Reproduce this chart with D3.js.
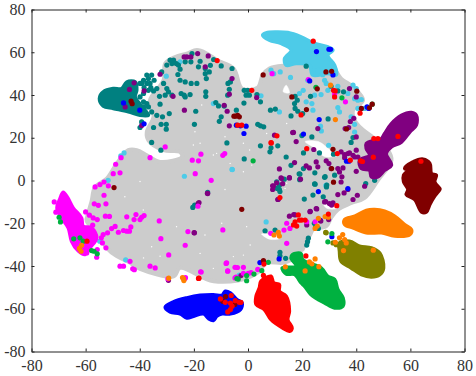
<!DOCTYPE html>
<html>
<head>
<meta charset="utf-8">
<script src="https://cdn.jsdelivr.net/npm/d3@7/dist/d3.min.js"></script>
<style>
  html, body { margin: 0; padding: 0; background: #fff; }
  text { font-family: "Liberation Serif", serif; font-size: 16px; fill: #333; }
</style>
</head>
<body>
<div id="chart"></div>
<script>
// tick labels
const tickValues = [-80, -60, -40, -20, 0, 20, 40, 60, 80];

// cluster outlines in data units
const greyOutline = [[-22.6,59.4],[-18.9,61],[-15.2,59.4],[-11.5,56.3],[-5.3,52.4],[-2.2,43],[3.6,43.5],[5.4,49.3],[7.9,52.4],[14.7,53.9],[22.1,54.7],[27,57.8],[31.4,53.2],[34.4,47.7],[38.8,43.8],[42.5,37.6],[38.8,32.9],[39.4,28.2],[41.9,24.3],[44.3,22],[51.7,14.2],[53,9.5],[48,0.1],[43.1,-8.1],[38.2,-10.5],[33.2,-13.6],[30.7,-17.5],[28.9,-21.4],[24,-23],[22.7,-26],[20.9,-26.8],[20.2,-32.3],[17.2,-33.9],[15.9,-37],[12.8,-38.5],[6.7,-38.5],[4.2,-42.4],[-0.1,-45.5],[-3.6,-46.8],[-12.7,-47.1],[-16.4,-45.6],[-25.1,-40.9],[-27.5,-44.8],[-39.9,-41.3],[-44.2,-38],[-48.5,-35.4],[-52.2,-31.5],[-55.9,-23.7],[-59.6,-19],[-59,-15.1],[-57.8,-9.7],[-56.5,-3],[-52.2,0.9],[-48.5,7.9],[-44.2,14.2],[-41.1,14.2],[-37.4,11.8],[-32.5,8.7],[-24.4,11],[-25.1,13.4],[-31.2,14.2],[-36.8,18.8],[-37.4,22.7],[-34.9,29.8],[-36.2,37.6],[-31.2,46.9],[-30.6,54.7],[-26.9,57.8]];
const tealOutline = [[-54.9,38.3],[-53.5,41.5],[-49.8,43],[-46.7,43],[-44.8,46.1],[-41.7,46.1],[-41.1,42.2],[-41.7,39.1],[-38,32.9],[-36.8,30.5],[-39.9,30.5],[-44.2,32.1],[-49.8,33.7],[-53.5,34.8]];
const cyanOutline = [[5.4,68],[6.7,69.1],[10.4,69.5],[14.7,69.2],[19.6,67.2],[24.6,64.1],[29.5,62.5],[31.4,61],[29.5,58.6],[32,54],[32.6,49.3],[29.5,50],[23.9,49.3],[22.7,54],[17.8,54.7],[14.1,53.9],[13.5,57],[16,61],[12.2,64.1],[7.9,65.6]];
const purpleOutline = [[50.5,22],[53,26.6],[56.7,30.5],[60.4,31.8],[62.2,30.5],[62.2,25.9],[59.8,22.7],[56.7,18],[53,15.7],[51.1,12.6],[53,7.1],[50.5,4.8],[48,1.7],[45.6,1.7],[44.9,4.8],[41.9,5.6],[41.2,9.5],[44.9,11.8],[43.7,14.9],[43.7,17.3],[46.8,18.8],[49.3,19.6]];
const maroonOutline = [[57.9,5.6],[61,8.7],[64.7,10],[67.2,8],[67.8,3.2],[69.6,2.5],[69,-0.6],[70.9,-3.8],[70.9,-4.2],[69,-7.3],[67.2,-11.2],[65.9,-14.7],[64.1,-14.7],[61.6,-8.9],[58.5,-6.6],[59.1,-4.2],[57.5,-0.6],[57.5,2.5],[59.1,4.8]];
const orangeOutline = [[35.7,-18.3],[39.5,-16.7],[43.7,-14],[46.8,-13.6],[50.5,-14.4],[54.2,-16.7],[57.9,-20.6],[60.4,-22.9],[59.8,-25.3],[54.2,-26],[49.3,-24.5],[43.7,-24.5],[38.8,-22.2],[35.7,-20.6]];
const oliveOutline = [[33.8,-29.2],[37.5,-28.4],[41.2,-30.7],[45.6,-31.5],[48.7,-33.9],[50.1,-40.9],[48.7,-44],[45.6,-45.1],[41.9,-44],[38.1,-40.9],[34.4,-37.8],[33.8,-33.1]];
const greenOutline = [[16.5,-34.6],[19.6,-34.2],[20.2,-37],[27,-40.9],[29.5,-44.8],[32,-46.3],[33.2,-51],[35.1,-54.9],[35.1,-58.8],[32,-59.6],[28.3,-57.3],[23.3,-53.4],[20.9,-49.5],[19.6,-47.9],[17.2,-44],[14.1,-43.7],[12.6,-40.9],[17.8,-40.1],[15.9,-36.2]];
const redOutline = [[4.8,-47.1],[8.5,-44.8],[9.5,-47.9],[11.6,-48.7],[11.6,-51.8],[14.1,-54.1],[15.3,-61.2],[14.7,-65.1],[16.3,-69],[15.3,-70.5],[12.8,-69],[8.5,-65.1],[6,-60.4],[3,-58],[3,-54.1],[4.2,-50.2]];
const blueOutline = [[-30.6,-59.3],[-27.5,-56.8],[-22.6,-54.9],[-17.7,-53.7],[-12.8,-53.4],[-9.6,-53.7],[-8.4,-51.8],[-6.5,-52.6],[-4.1,-55.7],[-2.2,-57.3],[-2.8,-60.4],[-6.5,-62.4],[-9.6,-62.4],[-11.5,-63.5],[-12.8,-65.5],[-14.6,-64.6],[-16.4,-62.4],[-20.1,-63.5],[-22.6,-64.3],[-25.1,-62.4],[-28.8,-61.5]];
const magentaOutline = [[-68.3,-5.5],[-66.6,-8.1],[-64.6,-12.8],[-61.5,-17.5],[-60.9,-21.4],[-57.8,-22.2],[-55.9,-26.8],[-58.4,-31.5],[-60.2,-34.6],[-62.7,-33],[-65.2,-28.4],[-66.4,-22.2],[-68.9,-17.5],[-70.6,-12.8],[-69.6,-8.9]];

// white gaps inside the grey mass
const gapOutlines = [
  [[21.1,18.2],[26,18.2],[30.3,14.3],[33.4,11.9],[28.5,11.1],[24.8,15]],
  [[27.8,-10.7],[30.9,-10.7],[32.8,-13],[29.1,-13]],
  [[14.1,44.6],[15.3,41],[13,41.5]],
  [[5,-25],[8,-27.5],[12,-27],[11,-26]]
];
const gapSpecks = [[-1.7,17.4],[0.6,14.3],[-8.5,20.5],[-6.6,8],[-1.7,4.1],[1.4,7.2],[6.9,22],[9.4,22],[14.3,26.7],[13.7,-3.7],[14.3,-1.3],[-8.5,-4.2],[-12.8,11.9],[-17.1,35.3],[-19.6,22.8],[-17.7,17.4],[-39.9,-0.5],[-45.5,-7.6],[-38.7,-13.8],[-20.2,16.6],[-11.6,12.7],[-15.9,-25.5],[-26.4,-21.6],[-35.6,-31],[-1.7,-34.9],[0.8,-30.2],[4.5,-41.9],[-9.7,-20],[-0.5,-21.6],[-5.4,-35.6],[-17.7,-34.1],[-12.8,-41.1],[-32.5,-35.4],[-38.6,-36.2]];

// single points
const cyanDots = [[-25.1,55.5],[-30.2,48.8],[-12.8,36],[-45.8,12.9],[-47,11.5],[-23.5,2],[-5.8,5.1],[-51.7,0.1],[8.5,51.6],[11.9,50.8],[9.5,50],[15.7,48.2],[22.1,46.9],[28.3,46.9],[28.9,45.4],[20.4,42.2],[19,40.7],[24.6,39.9],[23.6,36],[21.5,36.8],[24,32.9],[27,40.2],[29.5,42.2],[33.2,44.1],[36.9,40.7],[38.8,44.6],[40,43],[39.4,38.3],[41.9,37.9],[40.6,37.6],[33.2,34.1],[33.8,32.1],[40.6,33.7],[43.1,33.7],[38.1,29.8],[39.4,26.3],[26.8,25.4],[27.1,23.2],[39.4,22.7],[29.8,16.5],[11.6,32.1],[4.8,39.6],[28.9,-2.2],[25.8,51.6],[27.6,49.5],[-5.9,5.2],[6.7,-19.4],[28.8,-2.4],[-54.8,-28.4],[-45.2,-37.1],[-3.2,-44.2]];
const tealDots = [[-38.6,46.9],[-36.2,45.4],[-33.7,43],[-31.2,45.4],[-31.9,50.8],[-30,43],[-28.1,39.9],[-32.7,39.4],[-28.8,56.3],[-27.5,56.3],[-30,54],[-25.7,54],[-23.2,55.5],[-21.1,55.5],[-20.7,59.4],[-18.3,53.2],[-17.7,55.8],[-15.8,52.4],[-13.9,53.9],[-12.7,56.6],[-9.9,53.6],[-5.9,52.4],[-14.3,50.8],[-15.8,50],[-15.4,47.7],[-18.9,45.4],[-21,45.4],[-23.2,46.1],[-25.1,46.9],[-25.9,49.6],[-25.1,52.1],[-24.7,40.7],[-23.2,39.1],[-21.4,40.2],[-23.6,39.9],[-15.6,41.5],[-15.6,39.4],[-11.9,36.5],[-10.9,34.9],[-8.8,34.8],[-19.3,32.4],[-19.8,26.3],[-33.7,30.5],[-31.6,29.8],[-29.1,31.3],[-32.5,35.7],[-35.6,32.1],[-37.4,36],[-39.3,27.4],[-39.9,24.8],[-34.9,24.8],[-32.1,26.3],[-30.2,26.3],[-30.2,24],[-35.6,17.8],[-32.2,14.2],[-7.8,17.6],[-9.9,29.8],[-10.6,27.7],[-7.5,39.9],[-6.9,42.7],[-6.5,46.1],[-7.4,45.4],[-4.3,32.9],[-38.6,40.7],[-36.8,42.2],[-34.9,41.9],[-37.4,49.3],[-35.6,49.3],[-39.9,45.4],[-39.9,39.1],[-38.6,36.8],[-36.8,34.4],[-38.6,34.4],[-40.5,36],[-39.3,45.4],[-37.4,45.4],[-36.8,47.7],[-34.7,46.9],[-38.4,43.5],[-35.9,43.5],[-41.7,42.2],[-29.4,41.5],[-30.6,39.9],[-28.1,54.7],[-26.5,54.7],[-1.4,42.2],[-0.1,42.2],[0.5,39.9],[-0.7,39.9],[3.3,40.2],[4.6,36.8],[-1.5,36.2],[8.3,32.9],[10.1,33.4],[17.4,39.4],[18.2,37.6],[17.2,36],[17.4,33.7],[18.4,32.4],[15.9,30.2],[20.2,31.3],[23.1,39.4],[21.5,53.5],[35.3,41.5],[33.2,41.9],[30.7,44.1],[29.6,28.8],[3.6,26.3],[4.6,25.6],[5.8,25.1],[19.9,21],[23.6,20.4],[4.6,16.2],[8.5,15.3],[8.1,13.4],[11,16.2],[-1.4,10.1],[14.1,11],[20.5,12.9],[26.4,12.9],[15.9,7.1],[20.5,5.6],[18.9,3.1],[19.1,0.4],[24.7,3.6],[28.3,1.5],[24.6,-1.6],[32,2.5],[29,-3],[43.5,-1.4],[38.8,20.1],[38.1,17.8],[31.6,12.3],[48,2.5],[46.8,0.1],[13.4,0.6],[11.6,-2.2],[10.6,-0.6],[11.8,-5.2],[10.8,-3.7],[11.6,-4.2],[20.8,-8.7],[19.2,3],[19.2,0.7],[24,-6.8],[24.8,-1.7],[28.5,1.8],[29.1,-2.1],[27.8,-7.6],[-19.7,-11.5],[-20.4,-12.6],[6.3,-23.5],[10,-23.2],[22.3,-27],[21.7,-30.2],[22,-28.6],[11.8,-33.6],[11.8,-35.2],[13.9,-36.4],[24.5,-20],[25,-21.6],[26,-22.4],[-14.9,-5.6]];
const purpleDots = [[-42.1,45.7],[-43.8,42.6],[-38.4,41.9],[-32.5,49.7],[-27.7,39.4],[-23.5,32.9],[-45.4,34.4],[-39.3,25.7],[-23.6,57.8],[-22.6,57.8],[-21.1,57.8],[-18.6,59.4],[-14.7,58.3],[-15.8,53.2],[-5.9,47.7],[-6.9,40.4],[-8.8,35.2],[-7.7,32.4],[-6.9,25.6],[3.2,38.8],[37.5,43],[40,39.1],[39.4,11],[37.5,12.9],[35.7,12.1],[40,14.2],[40,20.4],[39.1,29.1],[37.8,27.6],[35.9,24.3],[37.2,24.8],[25.8,24.3],[16.5,22.4],[9.8,21.2],[17.8,18.2],[24.3,14.5],[17.2,8.4],[11.6,5.4],[21.5,6.8],[22.7,5.9],[25.2,8.7],[25.8,6.4],[28.9,9.2],[29.9,7.9],[30.7,5.6],[33.2,5.6],[35.1,5.9],[33.8,4],[34.7,1.7],[34.4,-0.7],[40,4.3],[38.8,11.8],[40.6,11],[36.9,12.6],[19.4,0.6],[12.2,1.2],[15.3,1.2],[12.8,-1.5],[9.1,-2.5],[10.6,-1.1],[43.1,-2.7],[35.7,10.7],[34.4,13.4],[33.2,-6.6],[35.5,-5.8],[36.9,-4.2],[28.3,-10],[30.1,-10.8],[31.4,-10.5],[23,-14.4],[25.2,-13.1],[15.3,-16.7],[16.9,-15.9],[26.8,-18.7],[29.8,-18.3],[40.4,-6.9],[38.8,-8.9],[11,-8.9],[9.1,-4.2],[9.4,-2.6],[12.4,1],[15.3,1.3],[-15,-6],[-18.4,-10.7],[11.2,-8.8],[16.8,22.5],[-19.9,-24.4],[17.4,-16.1],[22.9,-14.6],[25.4,-13.3],[21.7,-20.8],[26.9,-19],[28.7,-9.9],[30.9,-11.5],[-2.6,-44.5],[-19.8,-24.5],[-29.4,-46.7],[-14.9,-6.1],[-18.1,-10.3],[-14.2,-62.3],[-8,-59],[-4.3,-58.5],[-3.8,-57.3]];
const magentaDots = [[-30.6,15.7],[-36.2,10.7],[-46.9,10.7],[-48.9,7.6],[-49.8,3.2],[-47.3,3.6],[-53.2,-0.7],[-54.7,-1.9],[-56.5,-3],[-51.6,-2.5],[-20.6,9.5],[-18.3,9.2],[-17.4,12.3],[-9.3,11.8],[-8.6,12.6],[-19.5,3.2],[-13.6,0.1],[36,36.8],[22.3,47.2],[32,40.4],[8.9,50],[-71.6,-10],[-71,-14.8],[-53.2,-6.9],[-52.5,-10.9],[-56.8,-10.9],[-55.3,-11.6],[-60,-14.7],[-58.6,-16.2],[-57.2,-17.5],[-55.7,-18.3],[-52.7,-16.7],[-51.2,-16.8],[-44.8,-17],[-42.1,-18.3],[-41.4,-15.9],[-39.9,-18.3],[-39.3,-17.2],[-38.4,-16.4],[-32.8,-18.9],[-51.9,-24.5],[-50.4,-22.5],[-49.1,-21.5],[-47.9,-24.2],[-46,-23.4],[-44.8,-23.7],[-43.3,-21.7],[-43.8,-23.7],[-32.2,-27.2],[-29.3,-34.8],[-23.2,-30.3],[-22.2,-23.9],[-9.3,-23.1],[-18.5,-12],[-53.5,-25.3],[-54.2,-26.8],[-53.8,-29.2],[-52.5,-31.5],[-57.4,-20.9],[-43.6,-37.8],[-47.3,-40.1],[-46,-40.1],[-42.6,-41.3],[-42,-41.7],[-36.2,-40.1],[-34.3,-40.9],[-17.3,-42.8],[-7.9,-38.5],[-7.5,-42.3],[-3.9,-40.7],[-4.4,-45.2],[-23.1,-45.4],[-29.6,-46],[-55.7,-32.3],[-55.9,-35.9],[-59.6,-33.9],[14.3,-29.4],[14.3,-20],[13.3,-23.2],[15.5,-22.4],[8.4,-24.7],[21.7,-19.3],[24.8,-19.3],[-8.1,-38.8],[-4.8,-40.6],[-1.7,-40.6],[-7.5,-42.4],[-17.5,-42.7],[-23.3,-45.8],[-4.8,-45.6],[-1.7,-43.4],[0.1,-43.4],[1.1,-43.1],[3.6,-41.6]];
const blueDots = [[-46,36.3],[-40,32.9],[-38.4,26.5],[-4.3,25.9],[-2.8,25.6],[30.5,61.4],[29.9,61.4],[25.3,60.3],[31.4,49.4],[22.8,46.6],[44,34.4],[44.6,33.7],[26.3,28.5],[-1.5,22],[20.5,21.7],[36.4,9],[37.3,9],[-0.7,25.4],[36.9,-3.8],[26,-5.2],[4.4,-38.4],[11.5,-36.7],[31,-26.3]];
const oliveDots = [[28.7,-24.3],[31.4,-29.2],[32.6,-30],[28.9,-24.5]];
const greenDots = [[1.9,9.2],[25.1,43.6],[34.7,38.7],[45.9,35.7],[-69.8,-17.2],[-69.3,-19.4],[-64.4,-27.3],[-62.1,-26.8],[-60.9,-28.4],[-57.8,-32.8],[-56.9,-33.1],[-55.7,-34.3],[-4.1,-45.9],[7.5,-38.3],[2.2,-43.8],[5.1,-42.2],[-0.5,-44.5],[-3.6,-46.1],[-0.5,-46.9],[31,-24.8],[29.5,-28.7]];
const orangeDots = [[32.3,28.5],[30.5,44.6],[-61.5,-30.3],[-62.3,-31.8],[-61.7,-33.1],[-29.3,-45.7],[-24.2,-45.4],[-23.7,-46.8],[-23.9,-45.8],[9.6,-25.5],[11.2,-24.3],[11.6,-26],[26,-17.7],[24.8,-22.4],[25.6,-21.3],[28.5,-16.9],[29.7,-17.2],[35,-25.3],[35.7,-27.6],[33.8,-26.8],[36.3,-29.2],[32.3,-28.9],[35.3,-32.8],[46.3,-32.6],[13.8,-40.4],[21.1,-42.3],[22.7,-38.1],[24.8,-36.7],[23.6,-39],[26.2,-40.3]];
const maroonDots = [[-43.2,37.1],[-42.8,35.9],[-5.2,30.1],[-4.6,30.1],[-49.5,-3.3],[5.6,49.4],[28.8,50.8],[30.9,51.1],[25.6,42.9],[16.2,39.1],[21.6,33.2],[40.2,41.8],[41.9,33.7],[44.9,34],[45.9,35.7],[31.4,14.6],[36.4,24.1],[30.9,5.6],[31.6,-0.8],[-3.2,29.8],[-3.8,30.5],[-2.3,-13.5],[5.7,-37.5],[-8.3,-54.3],[-9.3,-56.5],[-4.9,-58]];
const redDots = [[-11.4,56.1],[-3.8,25.9],[-2.3,25.9],[24.1,65.2],[1.4,42.2],[19.6,30.7],[31.6,42.2],[32.2,41.9],[32,39.1],[41.4,31.5],[10.7,20.9],[8.6,17.6],[21.7,14.9],[33,12.6],[37.8,9.5],[41.6,9.2],[42.3,8.9],[46.3,10.9],[46.5,19.6],[48,19.6],[55.4,20.6],[63.9,9],[11.8,-8],[8.5,17.7],[17.4,-19.3],[18.6,-16.1],[19,-18.5],[19.8,-18.5],[21.1,-18.5],[16.8,-20.8],[18,-21.3],[21.4,-35.3],[5.9,-39.1],[5.7,-44.4],[-18.3,-45.8],[32.8,-11.8],[29.7,-15.7],[-59.5,-28.4],[-18.1,-45.7],[-10.2,-55.4],[-6.2,-53.8],[-8.4,-57],[-6.5,-57.3],[-4.7,-56.2],[-5.9,-58.8],[-6.5,-60.4],[-7.5,-61.5],[-3.2,-57],[-2.6,-57]];

const WIDTH = 476;
const HEIGHT = 376;
const margin = { top: 9.5, right: 11.5, bottom: 24.5, left: 31.5 };

const x = d3.scaleLinear().domain([-80, 80]).range([margin.left, WIDTH - margin.right]);
const y = d3.scaleLinear().domain([-80, 80]).range([HEIGHT - margin.bottom, margin.top]);

const svg = d3.select("#chart").append("svg").attr("width", WIDTH).attr("height", HEIGHT);

const line = d3.line().x(d => x(d[0])).y(d => y(d[1])).curve(d3.curveCatmullRomClosed.alpha(0.5));

function drawOutline(points, colour, strokeWidth) {
  svg.append("path")
    .datum(points)
    .attr("d", line)
    .attr("fill", colour)
    .attr("stroke", colour)
    .attr("stroke-width", strokeWidth)
    .attr("stroke-linejoin", "round");
}

function drawDots(points, colour, r) {
  svg.append("g")
    .selectAll("circle")
    .data(points)
    .join("circle")
    .attr("cx", d => x(d[0]))
    .attr("cy", d => y(d[1]))
    .attr("r", r)
    .attr("fill", colour);
}

// grey mass first, gaps cut into it
drawOutline(greyOutline, "#cccccc", 4);
gapOutlines.forEach(g => drawOutline(g, "#ffffff", 0.5));
drawDots(gapSpecks, "#ffffff", 0.7);

// draw order follows what sits on top in the picture
const series = [
  [cyanOutline, cyanDots, "#4dcbe8"],
  [tealOutline, tealDots, "#008080"],
  [purpleOutline, purpleDots, "#800080"],
  [magentaOutline, magentaDots, "#ff00ff"],
  [blueOutline, blueDots, "#0000ff"],
  [oliveOutline, oliveDots, "#808000"],
  [greenOutline, greenDots, "#00b140"],
  [orangeOutline, orangeDots, "#ff8000"],
  [maroonOutline, maroonDots, "#800000"],
  [redOutline, redDots, "#ff0000"]
];
series.forEach(s => {
  drawOutline(s[0], s[2], 3.5);
  drawDots(s[1], s[2], 2.6);
});

// frame and ticks, ticks point inward on all four sides
const plain = d => d;
function styleAxis(g) {
  g.selectAll("path, line").attr("stroke", "#222").attr("stroke-width", 1);
  g.selectAll("text").attr("fill", "#333").attr("font-family", "Liberation Serif").attr("font-size", 16);
}
svg.append("g")
  .attr("transform", "translate(0," + y(-80) + ")")
  .call(d3.axisBottom(x).tickValues(tickValues).tickFormat(plain).tickSize(-3).tickSizeOuter(0).tickPadding(8))
  .call(styleAxis);
svg.append("g")
  .attr("transform", "translate(" + x(-80) + ",0)")
  .call(d3.axisLeft(y).tickValues(tickValues).tickFormat(plain).tickSize(-3).tickSizeOuter(0).tickPadding(6))
  .call(styleAxis);
svg.append("g")
  .attr("transform", "translate(0," + y(80) + ")")
  .call(d3.axisTop(x).tickValues(tickValues).tickFormat("").tickSize(-3).tickSizeOuter(0))
  .call(styleAxis);
svg.append("g")
  .attr("transform", "translate(" + x(80) + ",0)")
  .call(d3.axisRight(y).tickValues(tickValues).tickFormat("").tickSize(-3).tickSizeOuter(0))
  .call(styleAxis);
</script>
</body>
</html>
